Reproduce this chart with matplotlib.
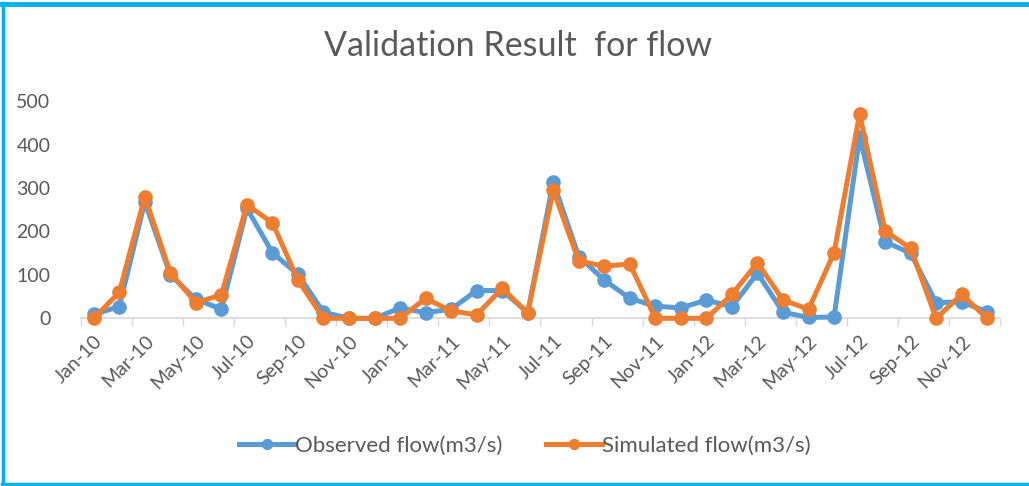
import matplotlib
matplotlib.use('Agg')
import matplotlib.pyplot as plt
from matplotlib.lines import Line2D

# month labels, Jan-10 .. Dec-12
months = ['Jan-10', 'Feb-10', 'Mar-10', 'Apr-10', 'May-10', 'Jun-10',
          'Jul-10', 'Aug-10', 'Sep-10', 'Oct-10', 'Nov-10', 'Dec-10',
          'Jan-11', 'Feb-11', 'Mar-11', 'Apr-11', 'May-11', 'Jun-11',
          'Jul-11', 'Aug-11', 'Sep-11', 'Oct-11', 'Nov-11', 'Dec-11',
          'Jan-12', 'Feb-12', 'Mar-12', 'Apr-12', 'May-12', 'Jun-12',
          'Jul-12', 'Aug-12', 'Sep-12', 'Oct-12', 'Nov-12', 'Dec-12']

observed = [9, 27, 268, 100, 44, 21,
            253, 151, 101, 14, 0, 0,
            24, 13, 21, 64, 64, 13,
            314, 142, 88, 46, 28, 24,
            42, 27, 104, 14, 2, 3,
            418, 176, 150, 36, 38, 15]

simulated = [0, 60, 280, 105, 36, 54,
             261, 220, 88, 0, 0, 0,
             0, 46, 17, 8, 69, 13,
             295, 132, 120, 125, 0, 0,
             0, 55, 128, 42, 21, 151,
             470, 201, 161, 0, 55, 0]

y_ticks = [0, 100, 200, 300, 400, 500]

BLUE = '#5B9BD5'
ORANGE = '#ED7D31'
TEXT = '#595959'
FONT = 'Lato'

fig = plt.figure(figsize=(10.29, 4.86), dpi=100)
ax = fig.add_axes([0.0787, 0.345, 0.8931, 0.447])

x = list(range(len(months)))
ax.plot(x, observed, color=BLUE, lw=3.6, marker='o', ms=9.5,
        label='Observed flow(m3/s)', solid_joinstyle='round', zorder=3, clip_on=False)
ax.plot(x, simulated, color=ORANGE, lw=3.6, marker='o', ms=9.5,
        label='Simulated flow(m3/s)', solid_joinstyle='round', zorder=4, clip_on=False)

ax.set_xlim(-0.5, len(months) - 0.5)
ax.set_ylim(0, 500)
ax.set_yticks(y_ticks)
ax.set_yticklabels([str(v) for v in y_ticks], fontsize=14, color=TEXT, family=FONT)
ax.tick_params(axis='y', length=0, pad=22)

# month labels on every second category, ticks on category boundaries
ax.set_xticks(x[::2])
ax.set_xticklabels(months[::2], rotation=45, ha='right', va='top',
                   rotation_mode='anchor', fontsize=14, color=TEXT, family=FONT)
ax.tick_params(axis='x', length=0, pad=10)
ax.set_xticks([b - 0.5 for b in range(0, len(months) + 1, 2)], minor=True)
ax.tick_params(axis='x', which='minor', length=6, color='#D9D9D9', width=1)

for s in ['top', 'right', 'left']:
    ax.spines[s].set_visible(False)
ax.spines['bottom'].set_color('#D9D9D9')
ax.spines['bottom'].set_linewidth(1.2)
ax.spines['bottom'].set_zorder(1)

fig.text(0.503, 0.905, 'Validation Result  for flow', ha='center', va='center',
         fontsize=24.5, color=TEXT, family=FONT)

leg = fig.legend(loc='center', bbox_to_anchor=(0.51, 0.082), ncol=2, frameon=False,
                 handlelength=2.5, handletextpad=0.0, columnspacing=2.0,
                 markerscale=0.75, prop={'family': FONT, 'size': 16})
for t in leg.get_texts():
    t.set_color(TEXT)

# chart frame (blue selection border)
border = '#00B0F0'
fig.add_artist(Line2D([0.002, 1.0], [0.991, 0.991], color=border, lw=3.5,
                      transform=fig.transFigure))
fig.add_artist(Line2D([0.0034, 0.0034], [0.004, 0.993], color=border, lw=2.5,
                      transform=fig.transFigure))
fig.add_artist(Line2D([0.002, 1.0], [0.0045, 0.0045], color=border, lw=2.5,
                      transform=fig.transFigure))

fig.savefig('out.png', dpi=100)
